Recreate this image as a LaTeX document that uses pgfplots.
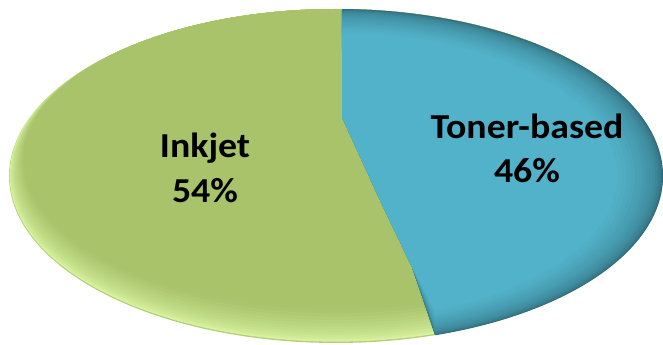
\documentclass[border=0pt]{standalone}
\usepackage{pgfplots}
\usepackage{pgfplotstable}
\pgfplotsset{compat=1.18}
\usepackage{fontspec}
\setmainfont{Carlito}
\definecolor{gedge}{RGB}{178,206,120}
\definecolor{glight}{RGB}{216,242,160}
\definecolor{gmid}{RGB}{168,195,106}
\definecolor{bedge}{RGB}{42,98,112}
\definecolor{bmid}{RGB}{82,178,201}
% shares (percent)
\pgfplotstableread{
label value
Inkjet 54
Toner-based 46
}\sharetable
% green (Inkjet) layers: x-scale, y-scale, colour; ellipse kept touching the top edge
\newcommand\greenlayer[3]{%
  \addplot[draw=none, fill={#3}, domain=0:360, samples=181, variable=\t]
    ({336+327*#1*cos(t)},{176-167*(1-#2)-167*#2*sin(t)});}
% blue (Toner-based) layers: scale about the disc centre, kept inside the wedge
\newcommand\bluelayer[2]{%
  \addplot[draw=none, fill={#2}, domain={-acos(99/(327*#1))}:{acos(6/(327*#1))}, samples=120, variable=\t]
    ({336+327*#1*cos(t)},{176-167*#1*sin(t)})
    -- (axis cs:342,117) -- (axis cs:380,200) -- (axis cs:412,267) -- cycle;}
\newcommand\lab[1]{\scalebox{1.08}[1]{\fontsize{35bp}{44bp}\selectfont\bfseries #1}}
\begin{document}
\begin{tikzpicture}
\begin{axis}[
  width=663bp, height=345bp, scale only axis,
  xmin=0, xmax=663, ymin=0, ymax=345, y dir=reverse,
  hide axis, clip=true,
]
\greenlayer{1.0000}{1.0000}{gedge}
\greenlayer{0.9982}{0.9960}{glight}
\greenlayer{0.9956}{0.9903}{glight!85!gmid}
\greenlayer{0.9926}{0.9835}{glight!75!gmid}
\greenlayer{0.9892}{0.9760}{glight!65!gmid}
\greenlayer{0.9856}{0.9680}{glight!55!gmid}
\greenlayer{0.9817}{0.9594}{glight!46!gmid}
\greenlayer{0.9777}{0.9504}{glight!38!gmid}
\greenlayer{0.9734}{0.9410}{glight!29!gmid}
\greenlayer{0.9690}{0.9312}{glight!21!gmid}
\greenlayer{0.9645}{0.9211}{glight!13!gmid}
\greenlayer{0.9598}{0.9107}{glight!5!gmid}
\greenlayer{0.9550}{0.9000}{gmid}
\bluelayer{1.0000}{bedge}
\bluelayer{0.9980}{bmid!20!bedge}
\bluelayer{0.9944}{bmid!30!bedge}
\bluelayer{0.9893}{bmid!38!bedge}
\bluelayer{0.9831}{bmid!45!bedge}
\bluelayer{0.9759}{bmid!52!bedge}
\bluelayer{0.9677}{bmid!58!bedge}
\bluelayer{0.9586}{bmid!63!bedge}
\bluelayer{0.9489}{bmid!69!bedge}
\bluelayer{0.9383}{bmid!74!bedge}
\bluelayer{0.9268}{bmid!78!bedge}
\bluelayer{0.9149}{bmid!83!bedge}
\bluelayer{0.9020}{bmid!87!bedge}
\bluelayer{0.8886}{bmid!92!bedge}
\bluelayer{0.8747}{bmid!96!bedge}
\bluelayer{0.8600}{bmid}
\node[anchor=base] at (axis cs:527,138) {\lab{Toner-based}};
\node[anchor=base] at (axis cs:527,182) {\lab{46\%}};
\node[anchor=base] at (axis cs:205,157) {\lab{Inkjet}};
\node[anchor=base] at (axis cs:205,202) {\lab{54\%}};
\end{axis}
\pgfresetboundingbox
\path (current axis.south west) rectangle (current axis.north east);
\end{tikzpicture}
\end{document}
